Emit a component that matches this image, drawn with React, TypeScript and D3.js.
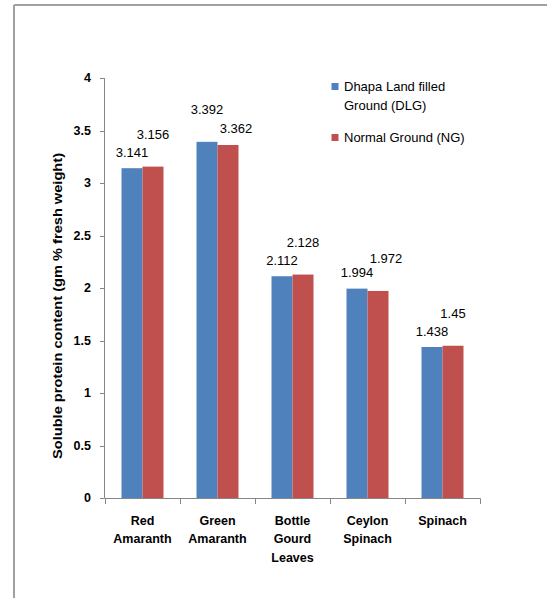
import React from "react";
import * as d3 from "d3";

const categories: string[][] = [
  ["Red", "Amaranth"],
  ["Green", "Amaranth"],
  ["Bottle", "Gourd", "Leaves"],
  ["Ceylon", "Spinach"],
  ["Spinach"],
];
const seriesNames = ["Dhapa Land filled Ground (DLG)", "Normal Ground (NG)"];
const dlgValues = [3.141, 3.392, 2.112, 1.994, 1.438];
const ngValues = [3.156, 3.362, 2.128, 1.972, 1.45];
const dlgLabels = ["3.141", "3.392", "2.112", "1.994", "1.438"];
const ngLabels = ["3.156", "3.362", "2.128", "1.972", "1.45"];
const yTicks = [0, 0.5, 1, 1.5, 2, 2.5, 3, 3.5, 4];
const yTickLabels = ["0", "0.5", "1", "1.5", "2", "2.5", "3", "3.5", "4"];

// label placement tweaks (layout): raised level and horizontal nudge per label
const dlgRaised = [false, true, false, false, false];
const ngRaised = [true, false, true, true, true];
const ngNudge = [0, 8, 0, 8, 0];

const COLORS = ["#4F81BD", "#C0504D"];
const FONT = "'Liberation Sans', Arial, sans-serif";

export default function App() {
  const x = d3.scaleBand<number>().domain(d3.range(categories.length)).range([105, 480]).padding(0);
  const y = d3.scaleLinear().domain([0, 4]).range([498, 78]);
  const barW = 21;
  const series = [dlgValues, ngValues];
  const labels = [dlgLabels, ngLabels];
  const raised = [dlgRaised, ngRaised];
  const axisColor = "#868686";

  return (
    <svg width={547} height={598} style={{ position: "absolute", left: 0, top: 0, background: "#fff" }} fontFamily={FONT}>
      <rect x={0} y={0} width={547} height={598} fill="#fff" />
      {/* outer frame */}
      <line x1={14} y1={5} x2={547} y2={5} stroke="#a0a0a0" strokeWidth={2} />
      <line x1={14} y1={5} x2={14} y2={598} stroke="#a0a0a0" strokeWidth={2} />

      {/* bars */}
      {series.map((vals, si) =>
        vals.map((v, i) => {
          const cx = x(i)! + x.bandwidth() / 2;
          const bx = cx - barW + si * barW;
          return (
            <rect key={`b${si}-${i}`} x={bx} y={y(v)} width={barW} height={y(0) - y(v)} fill={COLORS[si]} />
          );
        })
      )}

      {/* data labels */}
      {series.map((vals, si) =>
        vals.map((v, i) => {
          const cx = x(i)! + x.bandwidth() / 2;
          const bx = cx - barW + si * barW + barW / 2 + (si === 1 ? ngNudge[i] : 0);
          const off = raised[si][i] ? 32 : 16;
          return (
            <text key={`l${si}-${i}`} x={bx} y={y(v) - off} textAnchor="middle" dominantBaseline="central" fontSize={13} fill="#000">
              {labels[si][i]}
            </text>
          );
        })
      )}

      {/* y axis */}
      <line x1={104.5} y1={y(4)} x2={104.5} y2={y(0)} stroke={axisColor} />
      {yTicks.map((t, i) => (
        <g key={`yt${i}`}>
          <line x1={100} x2={104.5} y1={Math.round(y(t)) + 0.5} y2={Math.round(y(t)) + 0.5} stroke={axisColor} />
          <text x={91} y={y(t)} textAnchor="end" dominantBaseline="central" fontSize={12.5} fontWeight="bold" fill="#000">
            {yTickLabels[i]}
          </text>
        </g>
      ))}
      <text
        transform={`translate(58,306) rotate(-90)`}
        textAnchor="middle"
        dominantBaseline="central"
        fontSize={12.5}
        fontWeight="bold"
        fill="#000"
        textLength={306}
        lengthAdjust="spacingAndGlyphs"
      >
        Soluble  protein content (gm % fresh weight)
      </text>

      {/* x axis */}
      <line x1={104.5} x2={480.5} y1={498.5} y2={498.5} stroke={axisColor} />
      {d3.range(categories.length + 1).map((i) => {
        const tx = Math.round(i < categories.length ? x(i)! : x(categories.length - 1)! + x.bandwidth()) + 0.5;
        return <line key={`xt${i}`} x1={tx} x2={tx} y1={498.5} y2={504} stroke={axisColor} />;
      })}
      {categories.map((lines, i) => (
        <text key={`xl${i}`} textAnchor="middle" fontSize={12.5} fontWeight="bold" fill="#000">
          {lines.map((ln, j) => (
            <tspan key={j} x={x(i)! + x.bandwidth() / 2} y={521 + j * 18.3} dominantBaseline="central">
              {ln}
            </tspan>
          ))}
        </text>
      ))}

      {/* legend */}
      <rect x={331.5} y={83} width={7} height={7} fill={COLORS[0]} />
      <text fontSize={13} fill="#000">
        <tspan x={344} y={86.7} dominantBaseline="central">Dhapa Land filled</tspan>
        <tspan x={344} y={105.7} dominantBaseline="central">Ground (DLG)</tspan>
      </text>
      <rect x={331.5} y={134} width={7} height={7} fill={COLORS[1]} />
      <text x={344} y={137.7} dominantBaseline="central" fontSize={13} fill="#000">
        {seriesNames[1]}
      </text>
    </svg>
  );
}
